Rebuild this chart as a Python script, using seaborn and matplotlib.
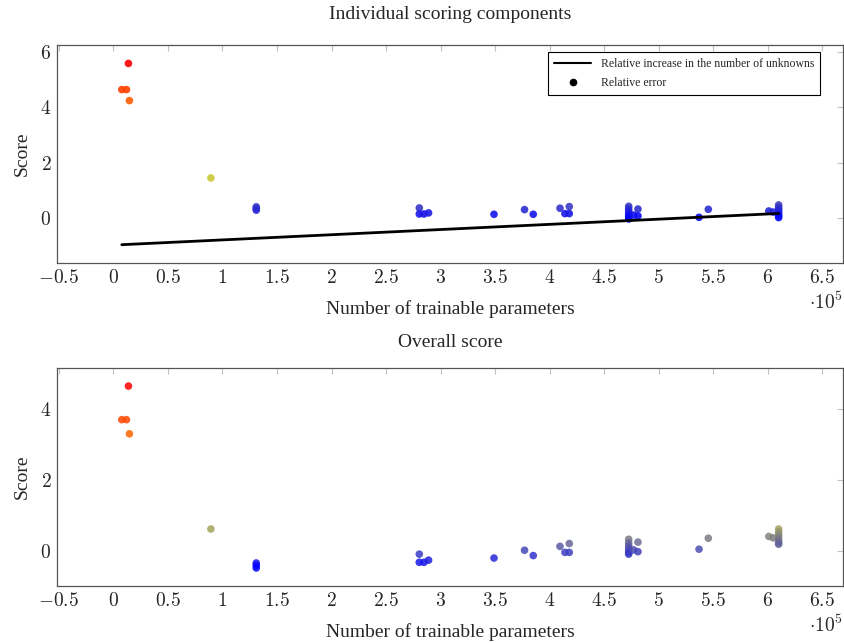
import numpy as np
import pandas as pd
import matplotlib
matplotlib.use("Agg")
import matplotlib.pyplot as plt
from matplotlib.colors import LinearSegmentedColormap, Normalize
from matplotlib.lines import Line2D
from matplotlib.ticker import FixedLocator, FuncFormatter
import seaborn as sns

# ---- data ----
params = [13800, 7700, 12000, 14700, 89400,
          131000, 131000, 131000,
          280500, 280500, 284800, 289000,
          349000, 377000, 385000,
          409500, 414000, 418000, 418000,
          472500, 472500, 472500, 472500, 472500, 472500, 472500,
          477000, 481000, 481000,
          537000, 545500,
          601000, 605000,
          610000, 610000, 610000, 610000, 610000, 610000, 610000]
relative_error = [5.60, 4.65, 4.65, 4.25, 1.44,
                  0.39, 0.33, 0.27,
                  0.35, 0.13, 0.13, 0.17,
                  0.12, 0.29, 0.12,
                  0.34, 0.145, 0.40, 0.145,
                  0.41, 0.33, 0.25, 0.18, 0.10, 0.03, -0.05,
                  0.09, 0.31, 0.06,
                  0.01, 0.30,
                  0.24, 0.20,
                  0.46, 0.38, 0.30, 0.22, 0.14, 0.07, 0.00]
overall_score = [4.65, 3.70, 3.70, 3.30, 0.61,
                 -0.35, -0.42, -0.49,
                 -0.10, -0.33, -0.33, -0.27,
                 -0.21, 0.01, -0.14,
                 0.12, -0.05, 0.20, -0.05,
                 0.32, 0.22, 0.14, 0.07, 0.00, -0.06, -0.10,
                 0.02, 0.24, -0.03,
                 0.04, 0.35,
                 0.40, 0.36,
                 0.61, 0.53, 0.45, 0.37, 0.29, 0.22, 0.18]
unknowns_x = [7700, 610000]
unknowns_rel_increase = [-0.985, 0.15]

xticks = [-50000, 0, 50000, 100000, 150000, 200000, 250000, 300000, 350000,
          400000, 450000, 500000, 550000, 600000, 650000]

# ---- style ----
sns.set_style("white")
plt.rcParams["font.family"] = ["Liberation Serif", "DejaVu Serif"]
plt.rcParams["mathtext.fontset"] = "cm"

hot = LinearSegmentedColormap.from_list(
    "pgf_hot", [(0, (0, 0, 1)), (1/3, (1, 1, 0)), (2/3, (1, 0.5, 0)), (1, (1, 0, 0))])

df = pd.DataFrame({"params": params, "rel_err": relative_error, "overall": overall_score})
line_df = pd.DataFrame({"x": unknowns_x, "y": unknowns_rel_increase})

W, H = 844, 643
fig = plt.figure(figsize=(W / 100, H / 100), dpi=100)
ax1 = fig.add_axes([57 / W, 1 - 263 / H, 786 / W, 218 / H])
ax2 = fig.add_axes([57 / W, 1 - 586 / H, 786 / W, 218 / H])

def fmt(v, pos):
    return "$" + f"{v / 1e5:g}" + "$"

def style(ax, yticks, ylim):
    ax.set_xlim(-51700, 669000)
    ax.set_ylim(*ylim)
    ax.xaxis.set_major_locator(FixedLocator(xticks))
    ax.xaxis.set_major_formatter(FuncFormatter(fmt))
    ax.yaxis.set_major_locator(FixedLocator(yticks))
    ax.yaxis.set_major_formatter(FuncFormatter(lambda v, p: f"${v:g}$"))
    ax.tick_params(direction="in", length=4, width=0.8, color="#c0c0c0",
                   top=True, right=True, labelsize=14, pad=4)
    for s in ax.spines.values():
        s.set_color("#555555")
        s.set_linewidth(0.9)
    ax.set_xlabel("Number of trainable parameters", fontsize=14, labelpad=10)
    ax.set_ylabel("Score", fontsize=14, labelpad=7)
    ax.text(1.0, -0.18, r"$\cdot 10^5$", transform=ax.transAxes, ha="right",
            va="center", fontsize=14)

# top plot
sns.lineplot(data=line_df, x="x", y="y", ax=ax1, color="black", linewidth=2,
             legend=False)
sns.scatterplot(data=df, x="params", y="rel_err", hue="rel_err", palette=hot,
                hue_norm=Normalize(min(relative_error), max(relative_error)),
                ax=ax1, s=30, alpha=0.9, edgecolor="none", legend=False)
style(ax1, [0, 2, 4, 6], (-1.65, 6.27))
ax1.set_title("Individual scoring components", fontsize=14, pad=19)
handles = [Line2D([], [], color="black", lw=1.5),
           Line2D([], [], color="black", marker="o", ls="none", markersize=4.5)]
leg = ax1.legend(handles, ["Relative increase in the number of unknowns", "Relative error"],
                 loc="upper right", bbox_to_anchor=(0.971, 0.968), fontsize=8.5,
                 frameon=True, fancybox=False, framealpha=1, edgecolor="black",
                 borderpad=0.5, borderaxespad=0, handlelength=3.2, labelspacing=0.6)
leg.get_frame().set_linewidth(0.8)

# bottom plot
sns.scatterplot(data=df, x="params", y="overall", hue="overall", palette=hot,
                hue_norm=Normalize(min(overall_score), max(overall_score)),
                ax=ax2, s=30, alpha=0.85, edgecolor="none", legend=False)
style(ax2, [0, 2, 4], (-1.0, 5.16))
ax2.set_title("Overall score", fontsize=14, pad=15)

fig.savefig("out.png", dpi=100)
